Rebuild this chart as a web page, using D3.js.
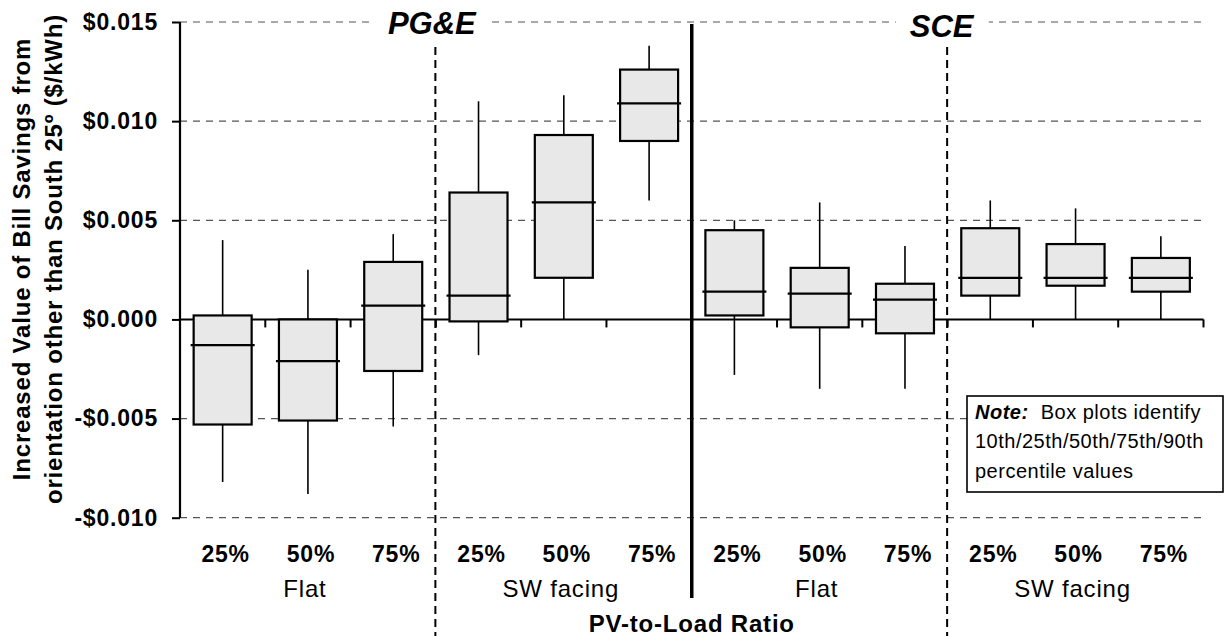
<!DOCTYPE html>
<html>
<head>
<meta charset="utf-8">
<script src="https://cdn.jsdelivr.net/npm/d3@7"></script>
<style>
  body { margin: 0; background: #fff; }
  svg { display: block; font-family: "Liberation Sans", Arial, Helvetica, sans-serif; }
</style>
</head>
<body>
<div id="chart"></div>
<script>
// ratio labels for each box, left to right
const categories = ["25%", "50%", "75%", "25%", "50%", "75%", "25%", "50%", "75%", "25%", "50%", "75%"];
const groups = ["Flat", "SW facing", "Flat", "SW facing"];
const utilities = ["PG&E", "SCE"];

// percentiles ($/kWh)
const p10 = [-0.0082, -0.0088, -0.0054, -0.0018, 0.0000, 0.0060, -0.0028, -0.0035, -0.0035, 0.0000, 0.0000, 0.0000];
const p25 = [-0.0053, -0.0051, -0.0026, -0.0001, 0.0021, 0.0090, 0.0002, -0.0004, -0.0007, 0.0012, 0.0017, 0.0014];
const p50 = [-0.0013, -0.0021, 0.0007, 0.0012, 0.0059, 0.0109, 0.0014, 0.0013, 0.0010, 0.0021, 0.0021, 0.0021];
const p75 = [0.0002, 0.0000, 0.0029, 0.0064, 0.0093, 0.0126, 0.0045, 0.0026, 0.0018, 0.0046, 0.0038, 0.0031];
const p90 = [0.0040, 0.0025, 0.0043, 0.0110, 0.0113, 0.0138, 0.0050, 0.0059, 0.0037, 0.0060, 0.0056, 0.0042];

const yTicks = [-0.010, -0.005, 0, 0.005, 0.010, 0.015];

const width = 1225, height = 636;
const plotLeft = 180, plotRight = 1203.5, plotTop = 22, plotBottom = 517.7;

const svg = d3.select("#chart").append("svg")
    .attr("width", width)
    .attr("height", height);

const x = d3.scaleBand()
    .domain(d3.range(categories.length))
    .range([plotLeft, plotRight]);

const y = d3.scaleLinear()
    .domain([-0.010, 0.015])
    .range([plotBottom, plotTop]);

const fmt = d3.formatLocale({decimal: ".", thousands: ",", grouping: [3], currency: ["$", ""], minus: "-"}).format("$.3f");

// dashed gridlines
svg.append("g")
    .selectAll("line")
    .data(yTicks.filter(d => d !== 0))
    .enter().append("line")
    .attr("x1", plotLeft)
    .attr("x2", plotRight - 1)
    .attr("y1", d => y(d))
    .attr("y2", d => y(d))
    .attr("stroke", "#555")
    .attr("stroke-width", 1.2)
    .attr("stroke-dasharray", "7,6");

// zero line
svg.append("line")
    .attr("x1", plotLeft).attr("x2", plotRight)
    .attr("y1", y(0)).attr("y2", y(0))
    .attr("stroke", "#000")
    .attr("stroke-width", 2);

// small ticks under zero line at band edges
svg.append("g")
    .selectAll("line")
    .data(d3.range(1, categories.length + 1))
    .enter().append("line")
    .attr("x1", i => i === categories.length ? plotRight : x(i))
    .attr("x2", i => i === categories.length ? plotRight : x(i))
    .attr("y1", y(0))
    .attr("y2", y(0) + 8)
    .attr("stroke", "#000")
    .attr("stroke-width", 2);

// y axis
const yAxis = svg.append("g")
    .attr("transform", `translate(${plotLeft},0)`)
    .call(d3.axisLeft(y).tickValues(yTicks).tickFormat(fmt).tickSize(8).tickPadding(14));
yAxis.select(".domain").remove();
yAxis.append("line")
    .attr("x1", 0).attr("x2", 0)
    .attr("y1", y(0.015)).attr("y2", y(-0.010))
    .attr("stroke", "#000")
    .attr("stroke-width", 2.2);
yAxis.selectAll(".tick line").attr("stroke", "#000").attr("stroke-width", 2);
yAxis.selectAll(".tick text")
    .attr("fill", "#000")
    .style("font-size", "23px")
    .style("font-weight", "bold")
    .style("letter-spacing", "0.8px")
    .style("font-family", "'Liberation Sans', Arial, sans-serif");

// separators between groups
const bw = x.step();
[3, 9].forEach(i => {
    svg.append("line")
        .attr("x1", x(i) - 0.5).attr("x2", x(i) - 0.5)
        .attr("y1", 47).attr("y2", height)
        .attr("stroke", "#000")
        .attr("stroke-width", 2)
        .attr("stroke-dasharray", "8,5");
});
svg.append("line")
    .attr("x1", x(6)).attr("x2", x(6))
    .attr("y1", 24).attr("y2", 598)
    .attr("stroke", "#000")
    .attr("stroke-width", 3.5);

// utility titles with white backing over the top gridline
const titleOffsets = [[3, -4, 34], [9, -6, 37]];
utilities.forEach((u, k) => {
    const [i, dx, by] = titleOffsets[k];
    const g = svg.append("g");
    const t = g.append("text")
        .attr("x", x(i) + dx)
        .attr("y", by)
        .attr("text-anchor", "middle")
        .style("font-size", "31px")
        .style("font-weight", "bold")
        .style("font-style", "italic")
        .text(u);
    const bb = t.node().getBBox();
    g.insert("rect", "text")
        .attr("x", bb.x - 14)
        .attr("y", 4)
        .attr("width", bb.width + 28)
        .attr("height", 40)
        .attr("fill", "#fff");
});

// boxes
const boxW = bw * 0.68;
const boxes = svg.append("g")
    .selectAll("g")
    .data(d3.range(categories.length))
    .enter().append("g")
    .attr("transform", i => `translate(${x(i) + bw / 2},0)`);

boxes.append("line")
    .attr("x1", 0).attr("x2", 0)
    .attr("y1", i => y(p90[i])).attr("y2", i => y(p75[i]))
    .attr("stroke", "#000").attr("stroke-width", 1.6);

boxes.append("line")
    .attr("x1", 0).attr("x2", 0)
    .attr("y1", i => y(p25[i])).attr("y2", i => y(p10[i]))
    .attr("stroke", "#000").attr("stroke-width", 1.6);

boxes.append("rect")
    .attr("x", -boxW / 2)
    .attr("width", boxW)
    .attr("y", i => y(p75[i]))
    .attr("height", i => y(p25[i]) - y(p75[i]))
    .attr("fill", "#e8e8e8")
    .attr("stroke", "#000")
    .attr("stroke-width", 2.2);

boxes.append("line")
    .attr("x1", -boxW / 2 - 3).attr("x2", boxW / 2 + 3)
    .attr("y1", i => y(p50[i])).attr("y2", i => y(p50[i]))
    .attr("stroke", "#000").attr("stroke-width", 2.2);

// category labels
svg.append("g")
    .selectAll("text")
    .data(categories)
    .enter().append("text")
    .attr("x", (d, i) => x(i) + bw / 2 + 3)
    .attr("y", 562)
    .attr("text-anchor", "middle")
    .style("font-size", "23px")
    .style("font-weight", "bold")
    .style("letter-spacing", "0.8px")
    .text(d => d);

// group labels
svg.append("g")
    .selectAll("text")
    .data(groups)
    .enter().append("text")
    .attr("x", (d, k) => x(k * 3) + bw * 1.5 - 3)
    .attr("y", 597)
    .attr("text-anchor", "middle")
    .style("font-size", "24px")
    .style("letter-spacing", "0.8px")
    .text(d => d);

// x axis title
svg.append("text")
    .attr("x", x(6))
    .attr("y", 632)
    .attr("text-anchor", "middle")
    .style("font-size", "24px")
    .style("font-weight", "bold")
    .style("letter-spacing", "0.8px")
    .text("PV-to-Load Ratio");

// y axis title, two lines
const yTitle = ["Increased Value of Bill Savings from", "orientation other than South 25º ($/kWh)"];
svg.append("g")
    .selectAll("text")
    .data(yTitle)
    .enter().append("text")
    .attr("transform", (d, k) => `translate(${k === 0 ? 30 : 62},259) rotate(-90)`)
    .attr("text-anchor", "middle")
    .style("font-size", "24px")
    .style("font-weight", "bold")
    .style("letter-spacing", "0.8px")
    .text(d => d);

// note box
const note = svg.append("g");
note.append("rect")
    .attr("x", 967).attr("y", 396)
    .attr("width", 256).attr("height", 96)
    .attr("fill", "#fff")
    .attr("stroke", "#000")
    .attr("stroke-width", 1.6);
const l1 = note.append("text")
    .attr("x", 975).attr("y", 419)
    .style("font-size", "20px")
    .style("letter-spacing", "0.5px");
l1.append("tspan").style("font-weight", "bold").style("font-style", "italic").text("Note:");
l1.append("tspan").text("\u00a0 Box plots identify");
note.append("text")
    .attr("x", 975).attr("y", 448)
    .style("font-size", "20px")
    .style("letter-spacing", "0.5px")
    .text("10th/25th/50th/75th/90th");
note.append("text")
    .attr("x", 975).attr("y", 478)
    .style("font-size", "20px")
    .style("letter-spacing", "0.5px")
    .text("percentile values");
</script>
</body>
</html>
